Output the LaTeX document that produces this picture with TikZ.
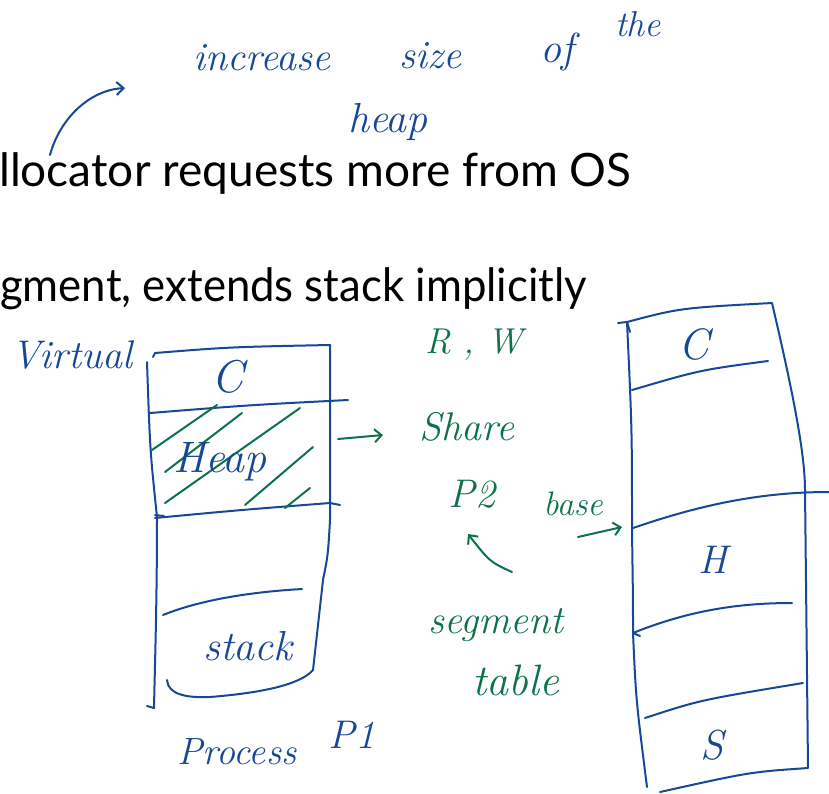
\documentclass[tikz,border=0pt]{standalone}
\usepackage{fontspec}
\setsansfont{Lato}
\usetikzlibrary{arrows.meta}
\definecolor{ink}{RGB}{22,72,150}
\definecolor{inkg}{RGB}{12,115,72}
\tikzset{
  pen/.style={draw=ink, line width=2pt, line cap=round, line join=round},
  gpen/.style={draw=inkg, line width=2pt, line cap=round, line join=round},
  hand/.style={text=ink, inner sep=0pt, font=\itshape\fontsize{#1}{#1}\selectfont},
  ghand/.style={text=inkg, inner sep=0pt, font=\itshape\fontsize{#1}{#1}\selectfont},
  printed/.style={inner sep=0pt, anchor=base west, font=\sffamily\fontsize{46}{46}\selectfont},
  barb/.style={-{Straight Barb[length=7pt,width=13pt,line width=2pt]}},
}
\begin{document}
\begin{tikzpicture}[x=1pt,y=-1pt]
\useasboundingbox (0,0) rectangle (829,793);

% printed slide text
\node[printed] (line1) at (-1,186) {llocator requests more from OS};
\node[printed, xscale=0.95] (line2) at (0,301) {gment, extends stack implicitly};

% note at the top
\node[hand=40] (w1) at (262,58) {increase};
\node[hand=40] (w2) at (430,56) {size};
\node[hand=42] (w3) at (557,52) {of};
\node[hand=36] (w4) at (638,24) {the};
\node[hand=42] (w5) at (388,122) {heap};
\coordinate (noteA) at (50,155);
\coordinate (noteB) at (125,88);
\draw[pen, barb] (noteA) .. controls (60,118) and (90,90) .. (noteB);

% process P1 (virtual)
\node[hand=40] (virt) at (72,355) {Virtual};
\draw[pen] (147,362) .. controls (150,450) .. (157,517)
  .. controls (157,600) and (155,660) .. (154,708) -- (147,706);
\draw[pen] (153,357) -- (155,353) .. controls (230,347) .. (330,345)
  -- (330,520) .. controls (328,555) .. (323,580) -- (313,670)
  .. controls (300,685) and (260,693) .. (210,697)
  .. controls (185,698) and (168,694) .. (167,680);
\draw[pen] (150,413) .. controls (250,405) .. (348,400);
\draw[pen] (155,515) -- (164,516);
\draw[pen] (155,518) .. controls (240,510) .. (330,503) -- (340,505);
\draw[pen] (163,615) .. controls (200,600) and (250,592) .. (302,589);
% hatching of the heap
\draw[gpen] (152,450) -- (217,405);
\draw[gpen] (165,472) -- (242,413);
\draw[gpen] (165,503) -- (300,408);
\draw[gpen] (245,505) -- (313,447);
\draw[gpen] (285,508) -- (310,488);
\node[hand=46] (c1) at (228,377) {C};
\node[hand=44] (heap1) at (220,462) {Heap};
\node[hand=42] (stack1) at (248,646) {stack};
\node[hand=38] (proc) at (237,752) {Process};
\node[hand=40] (p1) at (352,735) {P1};

% notes in between
\node[ghand=36] (rw) at (474,345) {R , W};
\node[ghand=40] (share) at (467,427) {Share};
\node[ghand=40] (p2) at (472,494) {P2};
\node[ghand=40] (seg) at (496,625) {segment};
\node[ghand=44] (tab) at (516,680) {table};
\node[ghand=34] (base) at (573,504) {base};
\coordinate (hA) at (338,439);
\coordinate (hB) at (383,435);
\draw[gpen, barb] (hA) -- (hB);
\coordinate (sA) at (512,572);
\coordinate (sB) at (468,534);
\draw[gpen, barb] (sA) .. controls (490,562) .. (sB);
\coordinate (bA) at (578,537);
\coordinate (bB) at (622,527);
\draw[gpen, barb] (bA) .. controls (600,532) .. (bB);

% physical memory
\draw[pen] (618,323) -- (627,322) -- (630,332);
\draw[pen] (627,322) .. controls (632,430) .. (632,530)
  .. controls (633,600) .. (633,633) .. controls (636,700) .. (647,787);
\draw[pen] (627,322) .. controls (680,308) .. (772,303)
  .. controls (790,380) and (805,450) .. (805,490) -- (808,768)
  .. controls (750,772) .. (660,792);
\draw[pen] (632,390) .. controls (700,370) .. (768,361);
\draw[pen] (633,528) .. controls (700,505) and (760,492) .. (829,492);
\draw[pen] (640,636) -- (633,633) .. controls (690,610) and (740,603) .. (792,603);
\draw[pen] (645,718) .. controls (700,700) .. (803,683);
\node[hand=44] (c2) at (694,344) {C};
\node[hand=40] (h2) at (713,560) {H};
\node[hand=42] (s2) at (712,745) {S};
\end{tikzpicture}
\end{document}
